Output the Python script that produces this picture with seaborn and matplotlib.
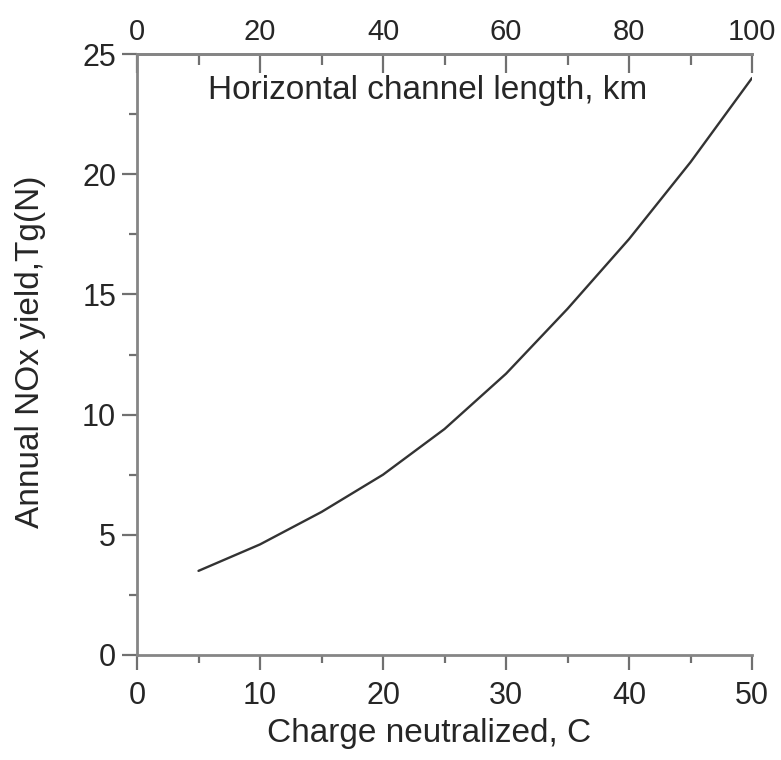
import matplotlib
matplotlib.use("Agg")
import matplotlib.pyplot as plt
import seaborn as sns
import pandas as pd
from matplotlib.ticker import MultipleLocator, FixedLocator

# Data
charge_c = [5, 10, 15, 20, 25, 30, 35, 40, 45, 50]
nox_yield = [3.5, 4.6, 5.95, 7.5, 9.4, 11.7, 14.4, 17.3, 20.5, 24.0]

top_ticks = [0, 20, 40, 60, 80, 100]
top_minor = [10, 30, 50, 70, 90]

x_label = "Charge neutralized, C"
y_label = "Annual NOx yield,Tg(N)"
top_label = "Horizontal channel length, km"

sns.set_style("ticks")
plt.rcParams['font.family'] = ['Liberation Sans', 'DejaVu Sans']

df = pd.DataFrame({"charge": charge_c, "nox": nox_yield})

fig = plt.figure(figsize=(7.81, 7.6), dpi=100)
ax = fig.add_axes([137/781, 1 - 655/760, (752-137)/781, (655-54)/760])

sns.lineplot(data=df, x="charge", y="nox", ax=ax, color="#333333", linewidth=1.7)

ax.set_xlim(0, 50)
ax.set_ylim(0, 25)
spine_col = "#858585"
text_col = "#262626"
for s in ["left", "bottom", "top"]:
    ax.spines[s].set_color(spine_col)
    ax.spines[s].set_linewidth(2.0)
ax.spines["right"].set_visible(False)

ax.xaxis.set_major_locator(MultipleLocator(10))
ax.xaxis.set_minor_locator(MultipleLocator(5))
ax.yaxis.set_major_locator(MultipleLocator(5))
ax.yaxis.set_minor_locator(MultipleLocator(2.5))
ax.tick_params(axis="both", which="major", direction="out", length=11, width=1.6,
               color="#707070", labelsize=22, labelcolor=text_col)
ax.tick_params(axis="both", which="minor", direction="out", length=6, width=1.6,
               color="#707070")
ax.tick_params(axis="x", which="major", pad=8)
ax.tick_params(axis="y", which="major", pad=4)

ax.set_xlabel(x_label, fontsize=24, color=text_col, labelpad=2)
ax.set_ylabel(y_label, fontsize=24, color=text_col)
ax.xaxis.set_label_coords(0.475, -0.105)
ax.yaxis.set_label_coords(-0.148, 0.505)

top = ax.secondary_xaxis("top", functions=(lambda v: v * 2, lambda v: v / 2))
top.xaxis.set_major_locator(FixedLocator(top_ticks))
top.xaxis.set_minor_locator(FixedLocator(top_minor))
top.tick_params(axis="x", which="major", direction="in", length=14, width=1.6,
                color="#707070", labelsize=21, labelcolor=text_col, pad=6)
top.tick_params(axis="x", which="minor", direction="in", length=8, width=1.6,
                color="#707070")
top.spines["top"].set_color(spine_col)
top.spines["top"].set_linewidth(2.0)

ax.text(0.473, 0.94, top_label, transform=ax.transAxes, ha="center", va="center",
        fontsize=24, color=text_col)

fig.savefig("out.png", dpi=100)
